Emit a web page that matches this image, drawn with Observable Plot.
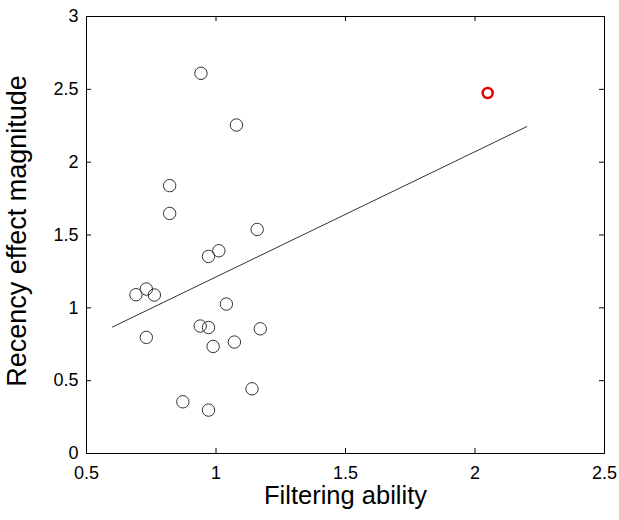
<!DOCTYPE html>
<html>
<head>
<meta charset="utf-8">
<script src="https://cdn.jsdelivr.net/npm/d3@7"></script>
<script src="https://cdn.jsdelivr.net/npm/@observablehq/plot@0.6"></script>
<style>
  html, body { margin: 0; padding: 0; background: #fff; }
  #chart { width: 619px; height: 520px; }
  svg { font-family: "Liberation Sans", Arial, sans-serif; }
</style>
</head>
<body>
<div id="chart"></div>
<script>
// Filtering ability (x) and recency effect magnitude (y) per participant
const filtering = [0.942, 1.079, 0.821, 0.821, 1.159, 0.971, 1.011, 0.691, 0.731, 0.762,
                   0.731, 1.040, 0.939, 0.971, 1.171, 0.989, 1.071, 1.139, 0.872, 0.971];
const recency   = [2.61, 2.255, 1.839, 1.648, 1.538, 1.353, 1.392, 1.090, 1.129, 1.088,
                   0.797, 1.026, 0.875, 0.865, 0.856, 0.735, 0.765, 0.444, 0.355, 0.298];
// Highlighted participant
const highlightX = [2.049];
const highlightY = [2.475];
// Least-squares fit line endpoints
const fitX = [0.6, 2.2];
const fitY = [0.868, 2.244];
// Axis ticks
const xTicks = [0.5, 1, 1.5, 2, 2.5];
const yTicks = [0, 0.5, 1, 1.5, 2, 2.5, 3];
const xTitle = "Filtering ability";
const yTitle = "Recency effect magnitude";

const points = filtering.map((x, i) => ({x, y: recency[i]}));
const highlight = highlightX.map((x, i) => ({x, y: highlightY[i]}));
const fit = fitX.map((x, i) => ({x, y: fitY[i]}));

const W = 619, H = 520;
const mTop = 16, mBottom = 67, mLeft = 86, mRight = 15;
const innerH = H - mTop - mBottom;
const innerW = W - mLeft - mRight;
const tl = 5;

const chart = Plot.plot({
  width: W,
  height: H,
  marginTop: mTop,
  marginBottom: mBottom,
  marginLeft: mLeft,
  marginRight: mRight,
  style: {fontFamily: '"Liberation Sans", Arial, sans-serif', background: "#fff", color: "#000"},
  x: {domain: [0.5, 2.5], axis: null},
  y: {domain: [0, 3], axis: null},
  marks: [
    Plot.axisX({ticks: xTicks, tickSize: 0, tickPadding: 13, fontSize: 18, tickFormat: d => String(d), label: null}),
    Plot.axisY({ticks: yTicks, tickSize: 0, tickPadding: 8, fontSize: 18, tickFormat: d => String(d), label: null}),
    // inward ticks on all four sides
    Plot.tickX(xTicks, {x: d => d, insetTop: innerH - tl, stroke: "#000"}),
    Plot.tickX(xTicks, {x: d => d, insetBottom: innerH - tl, stroke: "#000"}),
    Plot.tickY(yTicks, {y: d => d, insetRight: innerW - tl, stroke: "#000"}),
    Plot.tickY(yTicks, {y: d => d, insetLeft: innerW - tl, stroke: "#000"}),
    Plot.frame({stroke: "#000", strokeWidth: 1}),
    Plot.line(fit, {x: "x", y: "y", stroke: "#333", strokeWidth: 1}),
    Plot.dot(points, {x: "x", y: "y", r: 6.2, stroke: "#333", strokeWidth: 1, fill: "none"}),
    Plot.dot(highlight, {x: "x", y: "y", r: 5, stroke: "#e00000", strokeWidth: 2.5, fill: "none"}),
    Plot.text([xTitle], {frameAnchor: "bottom", dy: 42, fontSize: 25.5, textAnchor: "middle", lineAnchor: "middle", fill: "#000"}),
    Plot.text([yTitle], {frameAnchor: "left", dx: -69, dy: -4, rotate: -90, fontSize: 27, textAnchor: "middle", lineAnchor: "middle", fill: "#000"})
  ]
});
document.getElementById("chart").appendChild(chart);
</script>
</body>
</html>
